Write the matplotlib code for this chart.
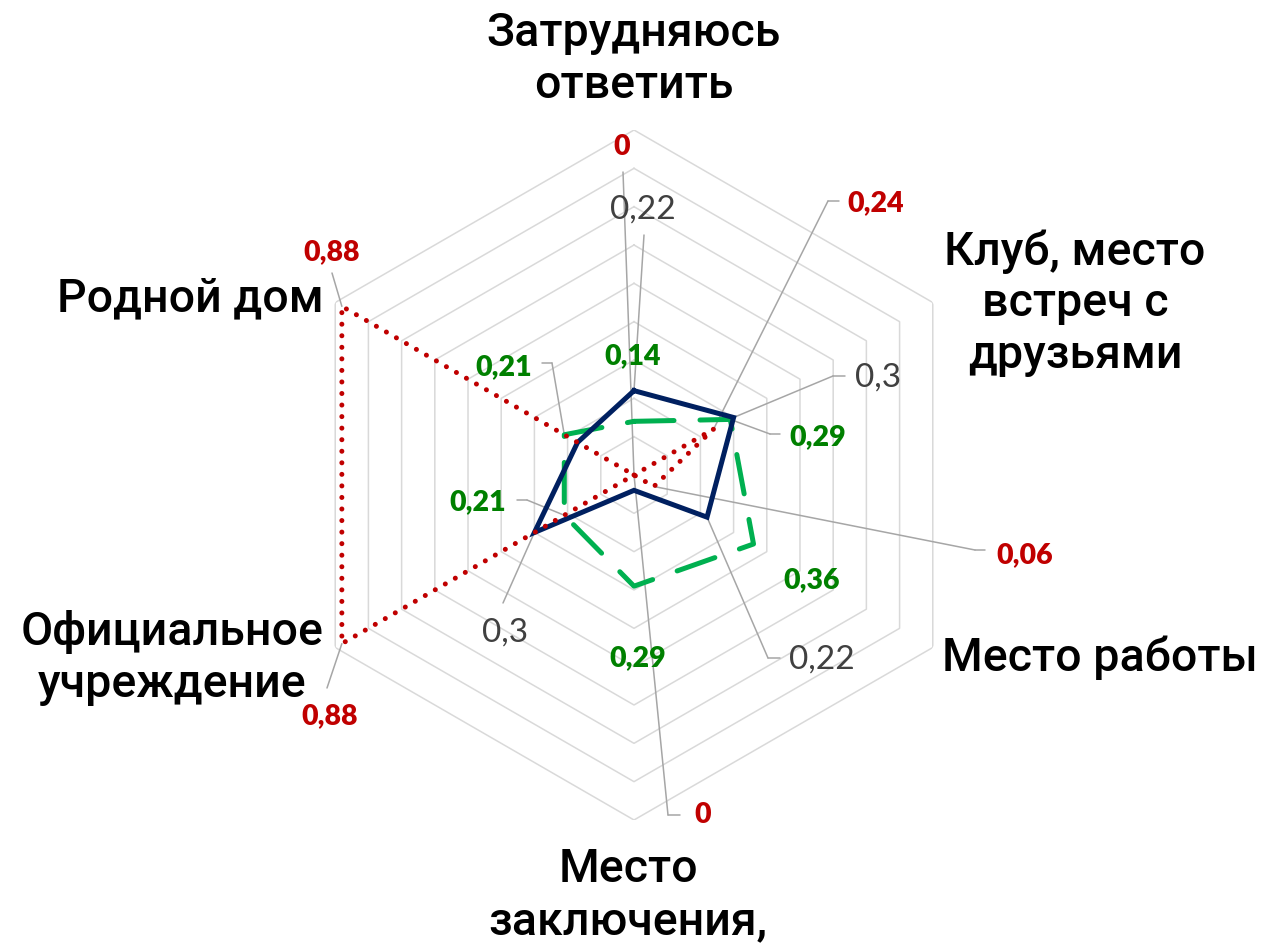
import numpy as np
import matplotlib
matplotlib.use("Agg")
import matplotlib.pyplot as plt

W, H = 1261, 947

categories = ["Затрудняюсь\nответить", "Клуб, место\nвстреч с\nдрузьями", "Место работы",
              "Место\nзаключения,", "Официальное\nучреждение", "Родной дом"]
blue_vals = [0.22, 0.30, 0.22, 0.04, 0.30, 0.17]
green_vals = [0.14, 0.29, 0.36, 0.29, 0.21, 0.21]
red_vals = [0.0, 0.24, 0.06, 0.0, 0.88, 0.88]
blue_labels = ["0,22", "0,3", "0,22", None, "0,3", None]
green_labels = ["0,14", "0,29", "0,36", "0,29", "0,21", "0,21"]
red_labels = ["0", "0,24", "0,06", "0", "0,88", "0,88"]
rmax = 0.9
rings = np.arange(0.1, 1.0, 0.1)

fig = plt.figure(figsize=(W / 100, H / 100), dpi=100)
cx, cy, R = 634, 475, 345
ax = fig.add_axes([(cx - R) / W, (H - cy - R) / H, 2 * R / W, 2 * R / H], projection="polar")
ax.set_theta_zero_location("N")
ax.set_theta_direction(-1)
ax.set_ylim(0, rmax)
ax.grid(False)
ax.set_xticks([])
ax.set_yticks([])
ax.spines["polar"].set_visible(False)
ax.patch.set_alpha(0)

n = len(categories)
theta = np.linspace(0, 2 * np.pi, n, endpoint=False)
tc = np.append(theta, theta[0])

for r in rings:
    ax.plot(tc, [r] * (n + 1), color="#d9d9d9", lw=1.1, zorder=1)

ax.plot(tc, green_vals + green_vals[:1], color="#00b050", lw=3.6,
        ls=(0, (8, 5.2)), dash_capstyle="round", zorder=3)
ax.plot(tc, blue_vals + blue_vals[:1], color="#002060", lw=3.6,
        solid_joinstyle="miter", zorder=4)
ax.plot(tc, red_vals + red_vals[:1], color="#c00000", lw=3.6,
        ls=(0, (0.01, 2.3)), dash_capstyle="round", zorder=5)


def fp(x, y):
    return (x, H - y)


def leader(i, r, pts):
    # leader line from data point through given pixel points (top-left origin)
    prev = None
    for k, (x, y) in enumerate(pts):
        if k == 0:
            ax.annotate("", xy=(theta[i], r), xycoords="data", xytext=fp(x, y),
                        textcoords="figure pixels",
                        arrowprops=dict(arrowstyle="-", color="#a6a6a6", lw=1.1,
                                        shrinkA=0, shrinkB=0), zorder=2)
        else:
            ax.annotate("", xy=fp(*prev), xycoords="figure pixels", xytext=fp(x, y),
                        textcoords="figure pixels",
                        arrowprops=dict(arrowstyle="-", color="#a6a6a6", lw=1.1,
                                        shrinkA=0, shrinkB=0), zorder=2)
        prev = (x, y)


def label(txt, x, y, color, bold, size, ha="center"):
    fig.text(x / W, 1 - y / H, txt, color=color, fontsize=size, ha=ha, va="center",
             fontweight="heavy" if bold else "normal", family=["Lato", "DejaVu Sans"])


# red series labels
red_pos = [(622, 147), (876, 203), (1025, 555), (703, 815), (330, 716), (332, 252)]
red_lead = [[(623, 172)], [(828, 201), (839, 201)], [(975, 550), (985, 550)],
            [(668, 815), (680, 815)], [(327, 688)], [(332, 273)]]
for i in range(n):
    leader(i, red_vals[i], red_lead[i])
    label(red_labels[i], *red_pos[i], "#c00000", True, 20.5)

# blue series labels (grey text)
blue_pos = [(643, 210), (878, 378), (822, 660), None, (505, 633), None]
blue_lead = [[(644, 235)], [(833, 376), (845, 376)], [(768, 658), (780, 658)], None,
             [(503, 603)], None]
for i in range(n):
    if blue_labels[i] is None:
        continue
    leader(i, blue_vals[i], blue_lead[i])
    label(blue_labels[i], *blue_pos[i], "#404040", False, 24)

# green series labels
green_pos = [(633, 356), (818, 437), (812, 580), (638, 658), (478, 502), (504, 367)]
green_lead = [None, [(770, 434), (780, 434)], None, None, [(527, 500), (517, 500)],
              [(552, 363), (542, 363)]]
for i in range(n):
    if green_lead[i]:
        leader(i, green_vals[i], green_lead[i])
    label(green_labels[i], *green_pos[i], "#008000", True, 20.5)

# category labels
cat_pos = [(634, 59), (1075, 303), (1100, 658), (628, 895), (172, 658), (190, 298)]
for txt, (x, y) in zip(categories, cat_pos):
    fig.text(x / W, 1 - y / H, txt, fontsize=33.5, ha="center", va="center",
             color="black", linespacing=1.22, fontweight="medium",
             family=["Roboto", "DejaVu Sans"])

fig.savefig("out.png", dpi=100)
